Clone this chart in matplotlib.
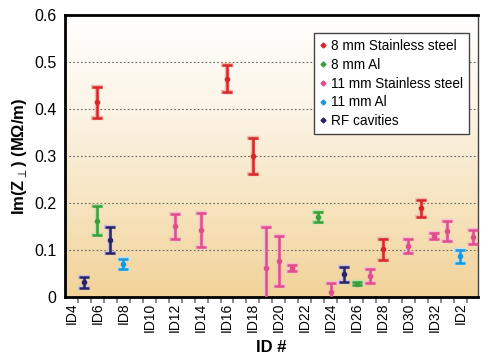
import numpy as np
import matplotlib
matplotlib.use("Agg")
import matplotlib.pyplot as plt
from matplotlib.colors import LinearSegmentedColormap
from matplotlib.ticker import FixedLocator

plt.rcParams['font.family'] = ['Liberation Sans', 'DejaVu Sans']

# ID order around the ring (x index 0..31)
ids = [f"ID{n}" for n in range(4, 33)] + ["ID1", "ID2", "ID3"]
tick_labels = ids[::2]

# series: id, value, error (MOhm/m)
ss8_ids = ["ID6", "ID16", "ID18", "ID28", "ID31"]
ss8_val = [0.414, 0.464, 0.300, 0.101, 0.189]
ss8_err = [0.033, 0.029, 0.039, 0.023, 0.018]

al8_ids = ["ID6", "ID23", "ID26"]
al8_val = [0.162, 0.170, 0.028]
al8_err = [0.031, 0.010, 0.003]

ss11_ids = ["ID12", "ID14", "ID19", "ID20", "ID21", "ID24", "ID27", "ID30", "ID32", "ID1", "ID3"]
ss11_val = [0.150, 0.142, 0.061, 0.077, 0.061, 0.010, 0.045, 0.109, 0.130, 0.140, 0.128]
ss11_err = [0.027, 0.036, 0.087, 0.053, 0.006, 0.020, 0.015, 0.015, 0.007, 0.021, 0.015]

al11_ids = ["ID8", "ID2"]
al11_val = [0.070, 0.086]
al11_err = [0.010, 0.014]

rf_ids = ["ID5", "ID7", "ID25"]
rf_val = [0.031, 0.121, 0.048]
rf_err = [0.011, 0.028, 0.016]

series = [
    ("8 mm Stainless steel", ss8_ids, ss8_val, ss8_err, "#d8262a", "#f4b8a8"),
    ("8 mm Al", al8_ids, al8_val, al8_err, "#38a038", "#c0e0b0"),
    ("11 mm Stainless steel", ss11_ids, ss11_val, ss11_err, "#e04c8c", "#f6c0d0"),
    ("11 mm Al", al11_ids, al11_val, al11_err, "#1898dc", "#b8e0f4"),
    ("RF cavities", rf_ids, rf_val, rf_err, "#2a2464", "#c8c0dc"),
]

fig = plt.figure(figsize=(4.89, 3.56), dpi=100)
ax = fig.add_axes([0.133, 0.166, 0.844, 0.792])

# gradient background
grad = LinearSegmentedColormap.from_list("bg", ["#f2d399", "#f7e4c0", "#fcf4e6", "#ffffff"])
ax.imshow(np.linspace(0, 1, 256).reshape(-1, 1), cmap=grad, aspect="auto",
          extent=[0, 1, 0, 1], transform=ax.transAxes, origin="lower", zorder=0)

for yv in [0.1, 0.2, 0.3, 0.4, 0.5]:
    ax.axhline(yv, color="#666666", lw=0.8, ls=(0, (1.5, 2)), zorder=1)

for label, sid, val, err, col, halo in series:
    x = [ids.index(s) for s in sid]
    ax.errorbar(x, val, yerr=err, fmt="none", ecolor=halo, elinewidth=3.2,
                capsize=4.0, capthick=3.2, zorder=2)
    ax.errorbar(x, val, yerr=err, fmt="o", ms=3, color=col, ecolor=col,
                elinewidth=1.8, capsize=3.5, capthick=1.8, zorder=3)
    ax.plot([], [], "D", ms=2.5, color=col, label=label)

ax.set_xlim(-0.5, 31.35)
ax.set_ylim(0, 0.6)
ax.set_yticks([0, 0.1, 0.2, 0.3, 0.4, 0.5, 0.6])
ax.set_yticklabels(["0", "0.1", "0.2", "0.3", "0.4", "0.5", "0.6"], fontsize=11.5)

ax.set_xticks(range(0, 32, 2))
ax.set_xticklabels(tick_labels, rotation=90, fontsize=10)
ax.xaxis.set_minor_locator(FixedLocator(np.arange(0.5, 31, 1)))
ax.tick_params(axis="x", which="major", length=0, pad=4)
ax.tick_params(axis="x", which="minor", length=4, width=1.2, color="#777777")
ax.tick_params(axis="y", length=0, pad=6)

for side in ["left", "bottom", "top"]:
    ax.spines[side].set_linewidth(2)
ax.spines["right"].set_linewidth(1)
ax.spines["right"].set_color("#444444")

ax.set_ylabel("Im(Z$_{\\perp}$) (MΩ/m)", fontsize=12, fontweight="bold", labelpad=4)
ax.set_xlabel("ID #", fontsize=12, fontweight="bold", labelpad=6)

leg = ax.legend(loc="upper right", bbox_to_anchor=(0.995, 0.96), fontsize=9.8,
                handlelength=0.5, handletextpad=0.3, borderpad=0.45,
                labelspacing=0.35, fancybox=False, framealpha=1,
                edgecolor="#444444")
leg.get_frame().set_linewidth(1)

fig.savefig("out.png", dpi=100)
